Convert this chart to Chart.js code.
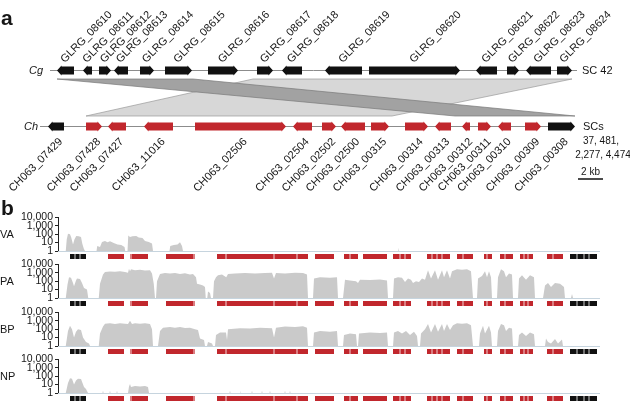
<!DOCTYPE html>
<html>
<head>
<meta charset="utf-8">
<script src="https://cdn.jsdelivr.net/npm/chart.js@4.4.1/dist/chart.umd.min.js"></script>
<style>
  body { margin: 0; background: #fff; width: 630px; height: 403px; overflow: hidden; position: relative; }
  canvas { position: absolute; left: 0; }
</style>
</head>
<body>
<canvas id="panelA" width="630" height="220" style="top:0"></canvas>
<canvas id="rowVA" width="630" height="54" style="top:209px"></canvas>
<canvas id="rowPA" width="630" height="54" style="top:256px"></canvas>
<canvas id="rowBP" width="630" height="54" style="top:304px"></canvas>
<canvas id="rowNP" width="630" height="54" style="top:351px"></canvas>
<script>
const FONT = '"Liberation Sans", Arial, sans-serif';

// Cg supercontig 42 genes: name, start (kb), end (kb), strand
const cgGenes = [
  ['GLRG_08610', 0.72, 2.08, -1],
  ['GLRG_08611', 2.8, 3.52, -1],
  ['GLRG_08612', 4.08, 5.04, 1],
  ['GLRG_08613', 5.28, 6.4, -1],
  ['GLRG_08614', 7.36, 8.48, 1],
  ['GLRG_08615', 9.36, 11.52, 1],
  ['GLRG_08616', 12.8, 15.2, 1],
  ['GLRG_08617', 16.72, 18.0, 1],
  ['GLRG_08618', 18.72, 20.32, -1],
  ['GLRG_08619', 22.16, 25.12, -1],
  ['GLRG_08620', 25.68, 32.96, 1],
  ['GLRG_08621', 34.24, 35.92, -1],
  ['GLRG_08622', 36.72, 37.68, 1],
  ['GLRG_08623', 38.24, 40.24, -1],
  ['GLRG_08624', 40.72, 41.92, 1],
];

// Ch genes: name, start (kb), end (kb), strand, part of the cluster
const chGenes = [
  ['CH063_07429', 0.0, 1.28, -1, false],
  ['CH063_07428', 3.04, 4.32, 1, true],
  ['CH063_07427', 4.8, 6.24, -1, true],
  ['CH063_11016', 7.68, 10.0, -1, true],
  ['CH063_02506', 11.76, 19.04, 1, true],
  ['CH063_02504', 19.6, 21.12, -1, true],
  ['CH063_02502', 21.92, 23.04, 1, true],
  ['CH063_02500', 23.44, 25.36, -1, true],
  ['CH063_00315', 25.84, 27.28, 1, true],
  ['CH063_00314', 28.56, 30.4, 1, true],
  ['CH063_00313', 30.96, 32.24, -1, true],
  ['CH063_00312', 33.12, 33.76, -1, true],
  ['CH063_00311', 34.4, 35.44, 1, true],
  ['CH063_00310', 36.0, 37.04, -1, true],
  ['CH063_00309', 38.16, 39.44, 1, true],
  ['CH063_00308', 40.0, 42.16, 1, false],
];

// intron positions (kb) seen in the coverage-panel gene models
const exonBreaks = [0.4, 0.8, 4.88, 9.92, 12.48, 16.32, 18.16, 22.4, 26.4, 26.8,
  28.96, 29.36, 29.76, 31.44, 33.36, 34.8, 36.32, 36.64, 38.64, 40.56, 41.12, 41.52];

const cgTrack = [0.16, 42.32];
const chTrack = [-0.64, 42.0];

// synteny blocks: Cg start, Cg end, Ch start, Ch end (kb)
const syntenyBlocks = [
  [16.4, 41.92, 3.04, 27.52],
  [0.72, 11.6, 32.56, 42.16],
];

const chContigs = ['37, 481,', '2,277, 4,474'];
const scaleBarKb = 2;

// read coverage (kb, reads), log scale
const vaCoverage = [
  [-0.96, 1], [-0.34, 1], [-0.26, 25], [-0.16, 110], [0.0, 100], [0.1, 40], [0.24, 6], [0.36, 25], [0.5, 60], [0.7, 55], [0.88, 45], [0.98, 8], [1.1, 2], [1.2, 1],
  [2.12, 1], [2.18, 4], [2.4, 3], [2.56, 12], [2.8, 15], [3.0, 11], [3.2, 14], [3.5, 9], [3.8, 6], [4.1, 5], [4.36, 3], [4.42, 1],
  [4.6, 1], [4.66, 70], [4.8, 45], [5.0, 55], [5.3, 60], [5.5, 40], [5.8, 35], [6.0, 15], [6.3, 12], [6.56, 8], [6.64, 1],
  [7.96, 1], [8.02, 4], [8.3, 5], [8.6, 6], [8.8, 11], [8.96, 4], [9.04, 1],
  [26.18, 1], [26.24, 2.5], [26.3, 1], [42.4, 1],
];

const paCoverage = [
  [-0.96, 1], [-0.34, 1], [-0.2, 40], [-0.08, 300], [0.08, 250], [0.24, 60], [0.32, 25], [0.48, 120], [0.56, 200], [0.8, 180], [0.96, 60], [1.12, 15], [1.36, 10], [1.46, 1],
  [2.3, 1], [2.4, 50], [2.64, 600], [2.8, 1200], [3.2, 1400], [3.6, 1300], [4.0, 1500], [4.4, 1200], [4.64, 1000], [4.72, 3000], [4.8, 1500], [4.88, 2500], [5.2, 2000], [5.6, 2200], [6.0, 1800], [6.4, 2000], [6.56, 800], [6.7, 50], [6.8, 1],
  [6.88, 1], [6.96, 100], [7.2, 700], [7.6, 900], [8.0, 800], [8.4, 900], [8.8, 700], [9.2, 850], [9.6, 600], [9.84, 700], [10.08, 300], [10.16, 50], [10.4, 40], [10.64, 30], [10.8, 20], [10.86, 1],
  [10.98, 1], [11.04, 6], [11.2, 4], [11.28, 1],
  [11.44, 1], [11.52, 100], [11.68, 300], [11.84, 500], [12.16, 600], [12.5, 300], [12.64, 700], [13.2, 800], [14.0, 900], [14.8, 800], [15.6, 900], [16.16, 1000], [16.32, 200], [16.48, 900], [17.2, 800], [18.0, 1000], [18.64, 900], [18.96, 600], [19.04, 1],
  [19.44, 1], [19.52, 200], [20.0, 300], [20.8, 250], [21.36, 300], [21.44, 1],
  [21.84, 1], [22.0, 150], [22.4, 120], [22.88, 100], [23.04, 60], [23.2, 150], [24.0, 140], [24.8, 160], [25.36, 120], [25.44, 1],
  [25.84, 1], [25.92, 200], [26.24, 300], [26.56, 250], [26.8, 80], [27.04, 200], [27.28, 150], [27.44, 60], [27.68, 100], [27.92, 80], [28.16, 200], [28.4, 150],
  [28.64, 2000], [28.88, 200], [29.2, 2000], [29.44, 150], [29.76, 2000], [29.92, 300], [30.16, 2000], [30.4, 200], [30.56, 1500], [30.96, 2500], [31.36, 2200], [31.76, 2500], [32.08, 1500], [32.24, 1],
  [32.56, 1], [32.64, 200], [32.96, 400], [33.2, 1500], [33.36, 300], [33.52, 1500], [33.68, 300], [33.76, 1],
  [34.16, 1], [34.24, 300], [34.48, 2500], [34.72, 1500], [34.88, 300], [35.12, 800], [35.36, 600], [35.44, 1],
  [35.84, 1], [35.92, 200], [36.16, 500], [36.48, 150], [36.8, 500], [37.12, 300], [37.2, 1],
  [37.84, 1], [38.0, 30], [38.24, 60], [38.48, 20], [38.8, 60], [39.2, 50], [39.52, 20], [39.6, 1],
  [40.08, 1], [40.16, 3], [40.24, 1], [42.4, 1],
];

const bpCoverage = [
  [-0.96, 1], [-0.34, 1], [-0.16, 60], [0.0, 250], [0.16, 100], [0.32, 10], [0.48, 50], [0.64, 100], [0.88, 80], [1.04, 10], [1.28, 3], [1.52, 2], [1.6, 1],
  [2.3, 1], [2.4, 30], [2.64, 200], [2.8, 450], [3.2, 500], [3.6, 400], [4.0, 500], [4.4, 450], [4.64, 400], [4.8, 1000], [4.96, 400], [5.2, 500], [5.6, 450], [6.0, 500], [6.4, 400], [6.56, 100], [6.64, 1],
  [7.04, 1], [7.2, 60], [7.44, 150], [8.0, 180], [8.4, 150], [8.8, 180], [9.2, 140], [9.6, 150], [10.0, 100], [10.24, 80], [10.4, 8], [10.72, 5], [10.8, 1],
  [10.96, 1], [11.04, 3], [11.36, 2], [11.44, 1],
  [11.6, 1], [11.68, 20], [12.0, 40], [12.48, 40], [12.56, 5], [12.64, 100], [13.6, 130], [14.4, 120], [15.2, 150], [16.16, 130], [16.32, 10], [16.48, 150], [17.2, 200], [18.0, 180], [18.64, 220], [18.96, 150], [19.04, 1],
  [19.44, 1], [19.52, 40], [20.0, 60], [20.8, 50], [21.36, 60], [21.44, 1],
  [21.84, 1], [21.92, 20], [22.4, 30], [22.88, 25], [22.96, 1], [23.04, 1], [23.12, 30], [24.0, 40], [24.8, 35], [25.36, 40], [25.44, 1],
  [25.84, 1], [25.92, 40], [26.24, 60], [26.56, 30], [26.88, 60], [27.2, 20], [27.52, 50], [27.76, 15], [27.84, 1],
  [28.0, 1], [28.08, 30], [28.4, 100], [28.64, 400], [28.88, 40], [29.2, 400], [29.44, 50], [29.76, 400], [29.92, 60], [30.16, 400], [30.4, 80], [30.64, 300], [30.96, 500], [31.36, 450], [31.76, 500], [32.08, 300], [32.24, 1],
  [32.72, 1], [32.8, 30], [33.04, 250], [33.2, 30], [33.52, 250], [33.68, 40], [33.76, 1],
  [34.16, 1], [34.24, 60], [34.48, 400], [34.72, 300], [34.88, 60], [35.12, 150], [35.36, 120], [35.44, 1],
  [35.84, 1], [35.92, 20], [36.16, 40], [36.48, 15], [36.8, 40], [37.12, 25], [37.2, 1],
  [38.0, 1], [38.08, 8], [38.24, 3], [38.48, 2], [38.8, 7], [39.04, 2], [39.36, 6], [39.44, 1], [42.4, 1],
];

const npCoverage = [
  [-0.96, 1], [-0.34, 1], [-0.16, 15], [0.0, 55], [0.16, 50], [0.32, 10], [0.48, 30], [0.64, 50], [0.88, 45], [1.12, 5], [1.28, 3], [1.44, 1],
  [2.6, 1], [2.64, 2], [2.68, 1], [3.16, 1], [3.2, 2], [3.24, 1], [3.72, 1], [3.76, 2], [3.8, 1],
  [4.64, 1], [4.72, 6], [4.8, 12], [4.88, 5], [5.2, 7], [5.6, 6], [6.0, 7], [6.24, 5], [6.32, 1],
  [12.76, 1], [12.8, 2], [12.84, 1], [13.56, 1], [13.6, 2], [13.64, 1], [14.52, 1], [14.56, 2], [14.6, 1],
  [15.32, 1], [15.36, 2], [15.4, 1], [15.96, 1], [16.0, 2], [16.04, 1], [17.16, 1], [17.2, 2], [17.24, 1],
  [17.56, 1], [17.6, 2], [17.64, 1], [42.4, 1],
];

const rows = [
  ['rowVA', 'VA', vaCoverage],
  ['rowPA', 'PA', paCoverage],
  ['rowBP', 'BP', bpCoverage],
  ['rowNP', 'NP', npCoverage],
];
const yTicks = [1, 10, 100, 1000, 10000];

const RED = '#c1272d';
const BLACK = '#111111';
const TEXT = '#161616';

function drawArrow(ctx, x0, x1, yc, strand, color) {
  const body = 4, head = 5;
  const hl = Math.min(4.5, (x1 - x0) * 0.6);
  ctx.beginPath();
  if (strand > 0) {
    ctx.moveTo(x0, yc - body);
    ctx.lineTo(x1 - hl, yc - body);
    ctx.lineTo(x1 - hl, yc - head);
    ctx.lineTo(x1, yc);
    ctx.lineTo(x1 - hl, yc + head);
    ctx.lineTo(x1 - hl, yc + body);
    ctx.lineTo(x0, yc + body);
  } else {
    ctx.moveTo(x1, yc - body);
    ctx.lineTo(x0 + hl, yc - body);
    ctx.lineTo(x0 + hl, yc - head);
    ctx.lineTo(x0, yc);
    ctx.lineTo(x0 + hl, yc + head);
    ctx.lineTo(x0 + hl, yc + body);
    ctx.lineTo(x1, yc + body);
  }
  ctx.closePath();
  ctx.fillStyle = color;
  ctx.fill();
}

const panelAPlugin = {
  id: 'panelA',
  afterDraw(chart) {
    const { ctx, scales: { x, y } } = chart;
    const cgY = y.getPixelForValue(1);
    const chY = y.getPixelForValue(0);
    const top = cgY + 9, bottom = chY - 10;
    ctx.save();

    // synteny ribbons
    syntenyBlocks.forEach((b, i) => {
      ctx.beginPath();
      ctx.moveTo(x.getPixelForValue(b[0]), top);
      ctx.lineTo(x.getPixelForValue(b[1]), top);
      ctx.lineTo(x.getPixelForValue(b[3]), bottom);
      ctx.lineTo(x.getPixelForValue(b[2]), bottom);
      ctx.closePath();
      ctx.fillStyle = i === 0 ? '#d7d7d7' : '#a2a2a2';
      ctx.fill();
      ctx.strokeStyle = i === 0 ? '#9a9a9a' : '#787878';
      ctx.lineWidth = 0.7;
      ctx.stroke();
    });

    // backbone lines
    ctx.strokeStyle = '#8c8c8c';
    ctx.lineWidth = 1;
    ctx.beginPath();
    ctx.moveTo(x.getPixelForValue(cgTrack[0]), cgY + 0.5);
    ctx.lineTo(x.getPixelForValue(cgTrack[1]), cgY + 0.5);
    ctx.moveTo(x.getPixelForValue(chTrack[0]), chY + 0.5);
    ctx.lineTo(x.getPixelForValue(chTrack[1]), chY + 0.5);
    ctx.stroke();

    ctx.font = '11px ' + FONT;
    cgGenes.forEach(g => {
      const x0 = x.getPixelForValue(g[1]), x1 = x.getPixelForValue(g[2]);
      drawArrow(ctx, x0, x1, cgY + 0.5, g[3], BLACK);
      ctx.save();
      ctx.translate((x0 + x1) / 2 - 3, cgY - 9);
      ctx.rotate(-Math.PI / 4);
      ctx.fillStyle = TEXT;
      ctx.textAlign = 'left';
      ctx.textBaseline = 'middle';
      ctx.fillText(g[0], 0, 0);
      ctx.restore();
    });
    chGenes.forEach(g => {
      const x0 = x.getPixelForValue(g[1]), x1 = x.getPixelForValue(g[2]);
      drawArrow(ctx, x0, x1, chY + 0.5, g[3], g[4] ? RED : BLACK);
      ctx.save();
      ctx.translate((x0 + x1) / 2 + 5, chY + 14);
      ctx.rotate(-Math.PI / 4);
      ctx.fillStyle = TEXT;
      ctx.textAlign = 'right';
      ctx.textBaseline = 'middle';
      ctx.fillText(g[0], 0, 0);
      ctx.restore();
    });

    // side labels
    ctx.fillStyle = TEXT;
    ctx.textBaseline = 'middle';
    ctx.textAlign = 'left';
    ctx.font = 'italic 11px ' + FONT;
    ctx.fillText('Cg', 29, cgY + 0.5);
    ctx.fillText('Ch', 24, chY + 0.5);
    ctx.font = '11px ' + FONT;
    ctx.fillText('SC 42', 582, cgY + 0.5);
    ctx.fillText('SCs', 583, chY + 1);
    ctx.textAlign = 'center';
    ctx.font = '10px ' + FONT;
    ctx.fillText(chContigs[0], 601, chY + 15);
    ctx.fillText(chContigs[1], 603, chY + 29);

    // scale bar
    const sb0 = x.getPixelForValue(42.4), sb1 = x.getPixelForValue(42.4 + scaleBarKb);
    ctx.fillText(scaleBarKb + ' kb', (sb0 + sb1) / 2, chY + 46);
    ctx.strokeStyle = '#111';
    ctx.lineWidth = 1.5;
    ctx.beginPath();
    ctx.moveTo(sb0, chY + 53);
    ctx.lineTo(sb1, chY + 53);
    ctx.stroke();

    // panel letters
    ctx.textAlign = 'left';
    ctx.textBaseline = 'alphabetic';
    ctx.font = 'bold 21px ' + FONT;
    ctx.fillText('a', 1, 25);
    ctx.fillText('b', 1, 215);
    ctx.restore();
  }
};

new Chart(document.getElementById('panelA'), {
  type: 'scatter',
  data: { datasets: [] },
  options: {
    responsive: false,
    animation: false,
    layout: { padding: { left: 40, right: 30, top: 70, bottom: 94 } },
    plugins: { legend: { display: false }, tooltip: { enabled: false } },
    scales: {
      x: { type: 'linear', display: false, min: -0.64, max: 44.16 },
      y: { type: 'linear', display: false, min: 0, max: 1 },
    },
  },
  plugins: [panelAPlugin],
});

function trackPlugin(label) {
  return {
    id: 'track' + label,
    afterDraw(chart) {
      const { ctx, chartArea, scales: { x } } = chart;
      ctx.save();
      // baseline
      ctx.strokeStyle = '#c6d4de';
      ctx.lineWidth = 1;
      ctx.beginPath();
      ctx.moveTo(chartArea.left, chartArea.bottom + 0.5);
      ctx.lineTo(chartArea.right, chartArea.bottom + 0.5);
      ctx.stroke();
      // gene models
      const ty = chartArea.bottom + 3;
      chGenes.forEach(g => {
        const x0 = x.getPixelForValue(g[1]), x1 = x.getPixelForValue(g[2]);
        ctx.fillStyle = g[4] ? RED : BLACK;
        ctx.fillRect(x0, ty, x1 - x0, 5);
      });
      ctx.fillStyle = 'rgba(255,255,255,0.8)';
      exonBreaks.forEach(b => {
        const px = x.getPixelForValue(b);
        ctx.fillRect(px - 0.5, ty, 1, 5);
      });
      // row label
      ctx.fillStyle = TEXT;
      ctx.font = '11px ' + FONT;
      ctx.textAlign = 'left';
      ctx.textBaseline = 'middle';
      ctx.fillText(label, 0, chartArea.top + 18);
      ctx.restore();
    }
  };
}

rows.forEach(([id, label, values]) => {
  new Chart(document.getElementById(id), {
    type: 'line',
    data: {
      datasets: [{
        data: values.map(p => ({ x: p[0], y: p[1] })),
        backgroundColor: '#cacaca',
        borderColor: '#cacaca',
        borderWidth: 0,
        pointRadius: 0,
        tension: 0,
        fill: 'start',
      }]
    },
    options: {
      responsive: false,
      animation: false,
      layout: { padding: { left: 0, right: 30, top: 6, bottom: 12 } },
      plugins: { legend: { display: false }, tooltip: { enabled: false } },
      scales: {
        x: { type: 'linear', display: false, min: -0.96, max: 42.4 },
        y: {
          type: 'logarithmic',
          min: 1,
          max: 10000,
          afterFit: s => { s.width = 58; },
          afterBuildTicks: s => { s.ticks = yTicks.map(v => ({ value: v })); },
          border: { display: true, color: '#222', width: 1 },
          grid: { drawOnChartArea: false, drawTicks: true, tickLength: 3, color: '#222' },
          ticks: {
            autoSkip: false,
            padding: 2,
            color: TEXT,
            font: { family: FONT, size: 10.5 },
            callback: v => v.toLocaleString('en-US'),
          },
        },
      },
    },
    plugins: [trackPlugin(label)],
  });
});
</script>
</body>
</html>
